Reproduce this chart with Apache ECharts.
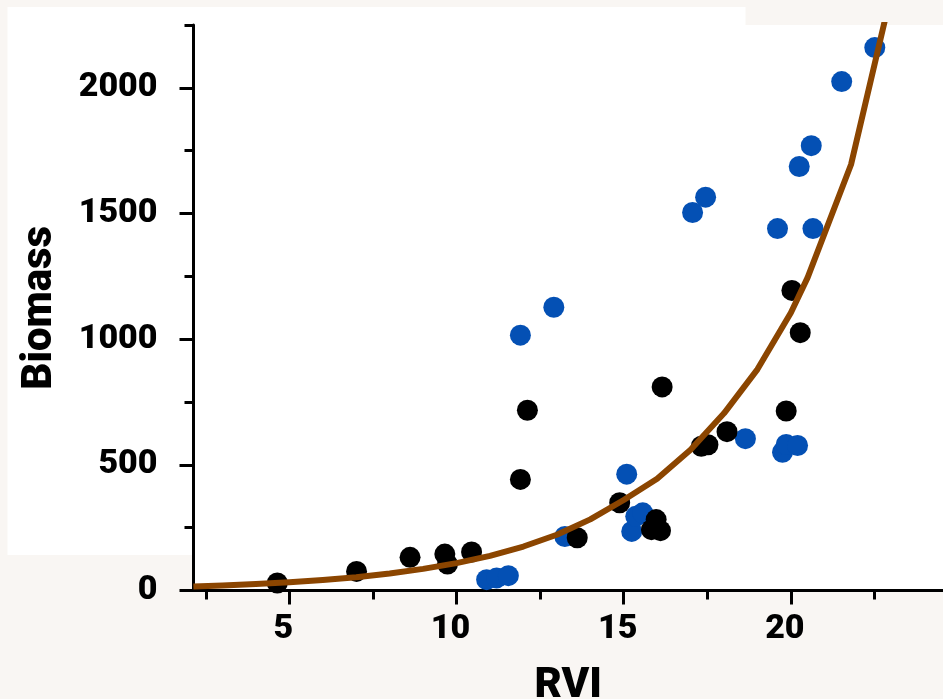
<!DOCTYPE html>
<html>
<head>
<meta charset="utf-8">
<script src="https://cdn.jsdelivr.net/npm/echarts@6/dist/echarts.min.js"></script>
<style>
  html, body { margin: 0; padding: 0; background: #f9f6f3; }
  #chart { width: 943px; height: 699px; }
</style>
</head>
<body>
<div id="chart"></div>
<script>
// Field samples: RVI against above-ground biomass, two sampling groups
const blackRVI     = [4.64, 7.01, 8.61, 9.65, 9.73, 10.45, 11.91, 12.12, 13.61, 14.88, 15.83, 15.97, 16.10, 16.15, 17.32, 17.52, 18.09, 19.86, 20.03, 20.28];
const blackBiomass = [30, 76, 132, 145, 105, 153, 442, 717, 210, 349, 242, 282, 238, 810, 574, 580, 632, 714, 1194, 1026];

const blueRVI     = [10.90, 11.20, 11.55, 11.91, 12.91, 13.24, 15.09, 15.24, 15.36, 15.57, 17.06, 17.45, 18.64, 19.60, 19.75, 19.86, 20.20, 20.25, 20.61, 20.66, 21.52, 22.51];
const blueBiomass = [43, 50, 59, 1016, 1127, 215, 463, 235, 295, 309, 1504, 1565, 604, 1440, 550, 581, 577, 1687, 1770, 1440, 2025, 2160];

// Exponential fit, evaluated along RVI
const fitRVI     = [2.13, 3, 4, 5, 6, 7, 8, 9, 10, 11, 12, 13, 14, 15, 16, 17, 18, 19, 20, 20.5, 21.8, 23.3];
const fitBiomass = [16, 20, 26, 33, 42, 53, 68, 86, 109, 138, 175, 222, 283, 360, 445, 560, 705, 880, 1105, 1245, 1695, 2545];

// Axis ranges and tick positions
const xRange = [2.133, 24.55];
const yRange = [0, 2250];
const xMajorTicks = [5, 10, 15, 20];
const xMinorTicks = [2.5, 7.5, 12.5, 17.5, 22.5];
const yMajorTicks = [0, 500, 1000, 1500, 2000];
const yMinorTicks = [250, 750, 1250, 1750, 2250];

const zip = (xs, ys) => xs.map((x, i) => [x, ys[i]]);

const FONT = 'Roboto, "Noto Sans", sans-serif';
const INK = '#000000';
const gridBox = { left: 193.5, top: 25, right: 0, bottom: 108.5, containLabel: false, outerBoundsMode: 'none' };

const chart = echarts.init(document.getElementById('chart'), null, { renderer: 'canvas' });

chart.setOption({
  animation: false,
  backgroundColor: '#f9f6f3',
  graphic: [{
    type: 'rect',
    z: -10,
    silent: true,
    shape: { x: 7.5, y: 7, width: 738, height: 548 },
    style: { fill: '#ffffff' }
  }],
  grid: [
    Object.assign({ show: true, backgroundColor: '#ffffff', borderWidth: 0 }, gridBox),
    Object.assign({ show: false }, gridBox)
  ],
  xAxis: [{
    gridIndex: 0,
    type: 'value',
    min: xRange[0], max: xRange[1],
    name: 'RVI',
    nameLocation: 'middle',
    nameGap: 75,
    nameTextStyle: { fontFamily: FONT, fontWeight: 900, fontSize: 42, color: INK },
    axisLine: { show: true, onZero: false, lineStyle: { color: INK, width: 3 } },
    axisTick: { show: true, customValues: xMajorTicks, length: 14, lineStyle: { color: INK, width: 3 } },
    axisLabel: {
      customValues: xMajorTicks,
      formatter: v => String(v),
      margin: 22,
      padding: [0, 12, 0, 0],
      fontFamily: FONT, fontWeight: 900, fontSize: 34, color: INK
    },
    splitLine: { show: false }
  }, {
    gridIndex: 1,
    type: 'value',
    min: xRange[0], max: xRange[1],
    axisLine: { show: false },
    axisTick: { show: true, customValues: xMinorTicks, length: 9, lineStyle: { color: INK, width: 3 } },
    axisLabel: { show: false },
    splitLine: { show: false }
  }],
  yAxis: [{
    gridIndex: 0,
    type: 'value',
    min: yRange[0], max: yRange[1],
    name: 'Biomass',
    nameLocation: 'middle',
    nameGap: 132,
    nameTextStyle: { fontFamily: FONT, fontWeight: 900, fontSize: 42, color: INK },
    axisLine: { show: true, onZero: false, lineStyle: { color: INK, width: 3 } },
    axisTick: { show: true, customValues: yMajorTicks, length: 14, lineStyle: { color: INK, width: 3 } },
    axisLabel: {
      customValues: yMajorTicks,
      formatter: v => String(v),
      margin: 36,
      fontFamily: FONT, fontWeight: 900, fontSize: 34, color: INK
    },
    splitLine: { show: false }
  }, {
    gridIndex: 1,
    type: 'value',
    min: yRange[0], max: yRange[1],
    axisLine: { show: false },
    axisTick: { show: true, customValues: yMinorTicks, length: 9, lineStyle: { color: INK, width: 3 } },
    axisLabel: { show: false },
    splitLine: { show: false }
  }],
  series: [{
    name: 'group B',
    type: 'scatter',
    xAxisIndex: 0, yAxisIndex: 0,
    symbol: 'circle',
    symbolSize: 21,
    itemStyle: { color: '#0450b4', opacity: 1 },
    data: zip(blueRVI, blueBiomass),
    z: 3
  }, {
    name: 'group A',
    type: 'scatter',
    xAxisIndex: 0, yAxisIndex: 0,
    symbol: 'circle',
    symbolSize: 21,
    itemStyle: { color: '#000000', opacity: 1 },
    data: zip(blackRVI, blackBiomass),
    z: 4
  }, {
    name: 'fit',
    type: 'line',
    xAxisIndex: 0, yAxisIndex: 0,
    showSymbol: false,
    symbol: 'none',
    smooth: false,
    clip: true,
    lineStyle: { color: '#8b4500', width: 6, cap: 'butt', join: 'round' },
    data: zip(fitRVI, fitBiomass),
    z: 5
  }]
});
</script>
</body>
</html>
